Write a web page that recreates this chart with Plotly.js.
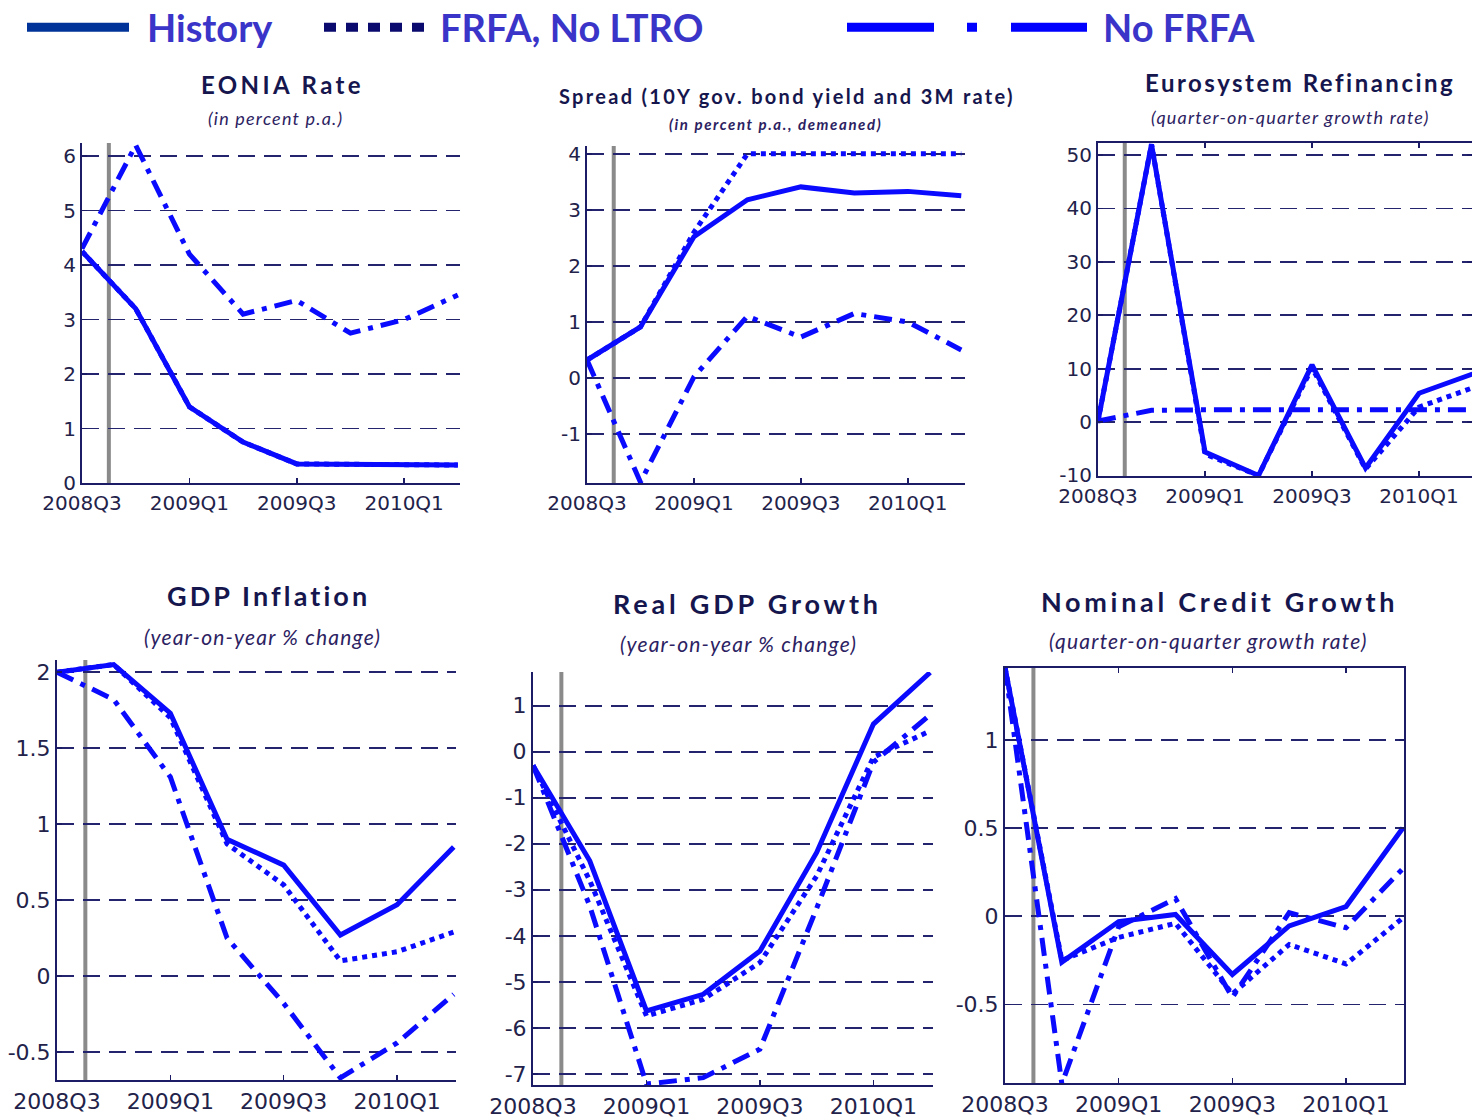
<!DOCTYPE html>
<html>
<head>
<meta charset="utf-8">
<script src="https://cdn.plot.ly/plotly-3.0.1.min.js"></script>
<style>
  html, body { margin: 0; padding: 0; background: #ffffff; }
  #chart { width: 1472px; height: 1118px; }
</style>
</head>
<body>
<div id="chart"></div>
<script>
// ---------- data ----------
const quarters = ['2008Q3','2008Q4','2009Q1','2009Q2','2009Q3','2009Q4','2010Q1','2010Q2'];
const tickQuarters = ['2008Q3','2009Q1','2009Q3','2010Q1'];
const historyEnd = 0.5; // position (in quarters from 2008Q3) of the vertical history marker

const seriesNames = ['History', 'FRFA, No LTRO', 'No FRFA'];

const eoniaHistory     = [4.25, 3.2, 1.4, 0.75, 0.35, 0.35, 0.34, 0.33];
const eoniaFrfaNoLtro  = [4.25, 3.2, 1.4, 0.75, 0.35, 0.35, 0.34, 0.33];
const eoniaNoFrfa      = [4.3, 6.2, 4.2, 3.1, 3.35, 2.75, 3.0, 3.45];

const spreadHistory    = [0.32, 0.91, 2.52, 3.18, 3.41, 3.3, 3.33, 3.25];
const spreadFrfaNoLtro = [0.32, 0.91, 2.6, 4.0, 4.0, 4.0, 4.0, 4.0];
const spreadNoFrfa     = [0.32, -1.86, 0.02, 1.1, 0.73, 1.15, 1.0, 0.5];

const refiHistory      = [0.2, 52, -5.6, -10, 10.7, -8.6, 5.4, 9.0];
const refiFrfaNoLtro   = [0.2, 52, -6.0, -10, 10.2, -8.8, 2.8, 6.4];
const refiNoFrfa       = [0.2, 2.2, 2.3, 2.3, 2.3, 2.3, 2.3, 2.3];

const gdpInfHistory    = [2.0, 2.05, 1.73, 0.9, 0.73, 0.27, 0.47, 0.85];
const gdpInfFrfaNoLtro = [2.0, 2.05, 1.7, 0.87, 0.6, 0.1, 0.16, 0.29];
const gdpInfNoFrfa     = [2.0, 1.82, 1.31, 0.25, -0.18, -0.67, -0.44, -0.12];

const realGdpHistory    = [-0.3, -2.37, -5.63, -5.27, -4.33, -2.19, 0.6, 1.72];
const realGdpFrfaNoLtro = [-0.3, -2.8, -5.74, -5.38, -4.58, -2.7, -0.12, 0.45];
const realGdpNoFrfa     = [-0.3, -3.35, -7.22, -7.08, -6.46, -3.4, -0.23, 0.8];

const creditHistory    = [1.41, -0.26, -0.03, 0.01, -0.33, -0.055, 0.055, 0.5];
const creditFrfaNoLtro = [1.41, -0.25, -0.12, -0.04, -0.44, -0.16, -0.27, -0.01];
const creditNoFrfa     = [1.41, -0.95, -0.06, 0.1, -0.46, 0.02, -0.065, 0.27];

const eoniaTicks   = [0, 1, 2, 3, 4, 5, 6];
const eoniaLabels  = ['0', '1', '2', '3', '4', '5', '6'];
const spreadTicks  = [-1, 0, 1, 2, 3, 4];
const spreadLabels = ['-1', '0', '1', '2', '3', '4'];
const refiTicks    = [-10, 0, 10, 20, 30, 40, 50];
const refiLabels   = ['-10', '0', '10', '20', '30', '40', '50'];
const gdpInfTicks  = [-0.5, 0, 0.5, 1, 1.5, 2];
const gdpInfLabels = ['-0.5', '0', '0.5', '1', '1.5', '2'];
const realGdpTicks  = [-7, -6, -5, -4, -3, -2, -1, 0, 1];
const realGdpLabels = ['-7', '-6', '-5', '-4', '-3', '-2', '-1', '0', '1'];
const creditTicks  = [-0.5, 0, 0.5, 1];
const creditLabels = ['-0.5', '0', '0.5', '1'];

const panelTitles = ['EONIA Rate', 'Spread (10Y gov. bond yield and 3M rate)', 'Eurosystem Refinancing',
                     'GDP Inflation', 'Real GDP Growth', 'Nominal Credit Growth'];
const panelSubtitles = ['(in percent p.a.)', '(in percent p.a., demeaned)', '(quarter-on-quarter growth rate)',
                        '(year-on-year % change)', '(year-on-year % change)', '(quarter-on-quarter growth rate)'];

// ---------- layout geometry (pixels) ----------
const W = 1472, H = 1118;
const px = v => v / W;
const py = v => 1 - v / H;

// dom: [left, right, top, bottom]; title: [cx, cy, size, letterSpacing]; sub: [cx, cy, size, letterSpacing, bold]
const panels = [
  {hist: eoniaHistory, frfa: eoniaFrfaNoLtro, nofrfa: eoniaNoFrfa, ticks: eoniaTicks, labels: eoniaLabels,
   dom: [82, 460, 143, 483], xr: [0, 7.04], yr: [0, 6.24], box: false, tf: 20,
   title: [282, 84, 24, 3.4], sub: [275, 118, 18, 1.2, false]},
  {hist: spreadHistory, frfa: spreadFrfaNoLtro, nofrfa: spreadNoFrfa, ticks: spreadTicks, labels: spreadLabels,
   dom: [587, 965, 146, 483], xr: [0, 7.07], yr: [-1.875, 4.14], box: false, tf: 20,
   title: [787, 96, 20, 2.3], sub: [775, 124, 15, 1.6, true]},
  {hist: refiHistory, frfa: refiFrfaNoLtro, nofrfa: refiNoFrfa, ticks: refiTicks, labels: refiLabels,
   dom: [1098, 1472, 143, 476], xr: [0, 6.99], yr: [-10.1, 52.25], box: true, tf: 20,
   title: [1300, 83, 24, 2.5], sub: [1290, 117, 18, 1.2, false]},
  {hist: gdpInfHistory, frfa: gdpInfFrfaNoLtro, nofrfa: gdpInfNoFrfa, ticks: gdpInfTicks, labels: gdpInfLabels,
   dom: [57, 456, 660, 1080], xr: [0, 7.04], yr: [-0.684, 2.08], box: false, tf: 22,
   title: [268, 595, 27, 3.1], sub: [262, 636, 21, 1.2, false]},
  {hist: realGdpHistory, frfa: realGdpFrfaNoLtro, nofrfa: realGdpNoFrfa, ticks: realGdpTicks, labels: realGdpLabels,
   dom: [533, 933, 672, 1085], xr: [0, 7.05], yr: [-7.24, 1.73], box: false, tf: 22,
   title: [747, 603, 27, 3.8], sub: [738, 643, 21, 1.2, false]},
  {hist: creditHistory, frfa: creditFrfaNoLtro, nofrfa: creditNoFrfa, ticks: creditTicks, labels: creditLabels,
   dom: [1005, 1404, 668, 1083], xr: [0, 7.02], yr: [-0.945, 1.407], box: true, tf: 22,
   title: [1219, 601, 27, 3.7], sub: [1208, 640, 21, 1.2, false]}
];

const lineBlue = '#0a0aff';
const navy = '#1c1c66';
const legendFont = {family: 'Lato, "Open Sans", sans-serif', size: 38, color: '#3a35c8', weight: 'bold'};
const traces = [];
const layout = {
  width: W, height: H,
  margin: {l: 0, r: 0, t: 0, b: 0, autoexpand: false},
  paper_bgcolor: '#ffffff', plot_bgcolor: '#ffffff',
  showlegend: true,
  legend:  {orientation: 'h', x: px(22),  y: py(-4), xanchor: 'left', yanchor: 'top',
            font: legendFont, itemwidth: 115, bgcolor: 'rgba(0,0,0,0)'},
  legend2: {orientation: 'h', x: px(319), y: py(-4), xanchor: 'left', yanchor: 'top',
            font: legendFont, itemwidth: 111, bgcolor: 'rgba(0,0,0,0)'},
  legend3: {orientation: 'h', x: px(842), y: py(-4), xanchor: 'left', yanchor: 'top',
            font: legendFont, itemwidth: 251, bgcolor: 'rgba(0,0,0,0)'},
  annotations: [],
  shapes: []
};

panels.forEach((p, i) => {
  const n = i + 1;
  const xa = 'x' + (n === 1 ? '' : n), ya = 'y' + (n === 1 ? '' : n);
  const xk = 'xaxis' + (n === 1 ? '' : n), yk = 'yaxis' + (n === 1 ? '' : n);
  traces.push({x: quarters, y: p.nofrfa, xaxis: xa, yaxis: ya, type: 'scatter', mode: 'lines',
               showlegend: false, hoverinfo: 'skip',
               line: {color: lineBlue, width: 5, dash: '18px,8px,5px,8px'}});
  traces.push({x: quarters, y: p.frfa, xaxis: xa, yaxis: ya, type: 'scatter', mode: 'lines',
               showlegend: false, hoverinfo: 'skip',
               line: {color: lineBlue, width: 5, dash: '5px,5px'}});
  traces.push({x: quarters, y: p.hist, xaxis: xa, yaxis: ya, type: 'scatter', mode: 'lines',
               showlegend: false, hoverinfo: 'skip',
               line: {color: lineBlue, width: 5}});
  const tickFont = {family: '"DejaVu Sans", sans-serif', size: p.tf, color: '#22224a'};
  layout[xk] = {
    domain: [px(p.dom[0]), px(p.dom[1])], anchor: ya,
    type: 'category', categoryarray: quarters, range: p.xr,
    tickmode: 'array', tickvals: tickQuarters, ticktext: tickQuarters,
    ticks: 'inside', ticklen: 5, tickwidth: 1.5, tickcolor: navy,
    showline: true, linecolor: navy, linewidth: 2, mirror: p.box ? 'ticks' : false,
    showgrid: false, zeroline: false, fixedrange: true, ticklabelstandoff: 1,
    tickfont: tickFont
  };
  layout[yk] = {
    domain: [py(p.dom[3]), py(p.dom[2])], anchor: xa,
    range: p.yr, tickmode: 'array', tickvals: p.ticks, ticktext: p.labels,
    ticks: 'inside', ticklen: 5, tickwidth: 1.5, tickcolor: navy,
    showline: true, linecolor: navy, linewidth: 2, mirror: p.box ? 'ticks' : false,
    showgrid: true, gridcolor: '#24246e', gridwidth: 1.8, griddash: '17px,9px',
    zeroline: false, fixedrange: true,
    tickfont: tickFont
  };
  layout.shapes.push({type: 'line', xref: xa, yref: ya + ' domain', x0: historyEnd, x1: historyEnd,
                      y0: 0, y1: 1, line: {color: '#8a8a8a', width: 4}, layer: 'below'});
  layout.annotations.push({
    xref: 'paper', yref: 'paper', x: px(p.title[0]), y: py(p.title[1]), xanchor: 'center', yanchor: 'middle',
    showarrow: false,
    text: '<b><span style="letter-spacing:' + p.title[3] + 'px">' + panelTitles[i] + '</span></b>',
    font: {family: 'Lato, "Open Sans", sans-serif', size: p.title[2], color: '#16164e'}
  });
  const subText = '<span style="letter-spacing:' + p.sub[3] + 'px">' + panelSubtitles[i] + '</span>';
  layout.annotations.push({
    xref: 'paper', yref: 'paper', x: px(p.sub[0]), y: py(p.sub[1]), xanchor: 'center', yanchor: 'middle',
    showarrow: false,
    text: p.sub[4] ? '<b><i>' + subText + '</i></b>' : '<i>' + subText + '</i>',
    font: {family: 'Lato, "Open Sans", sans-serif', size: p.sub[2], color: '#2c2262'}
  });
});

// legend entries (styles only, no data marks); trailing long gaps leave space before the text
traces.push({x: [null], y: [null], type: 'scatter', mode: 'lines', name: seriesNames[0], legend: 'legend',
             showlegend: true, hoverinfo: 'skip', line: {color: '#003399', width: 9, dash: '102px,400px'}});
traces.push({x: [null], y: [null], type: 'scatter', mode: 'lines', name: seriesNames[1], legend: 'legend2',
             showlegend: true, hoverinfo: 'skip',
             line: {color: '#0a0a6e', width: 9, dash: '12px,10px,12px,10px,12px,10px,12px,10px,12px,400px'}});
traces.push({x: [null], y: [null], type: 'scatter', mode: 'lines', name: seriesNames[2], legend: 'legend3',
             showlegend: true, hoverinfo: 'skip',
             line: {color: '#0000ff', width: 9, dash: '87px,33px,10px,34px,76px,400px'}});

Plotly.newPlot('chart', traces, layout, {displayModeBar: false, staticPlot: true});
</script>
</body>
</html>
